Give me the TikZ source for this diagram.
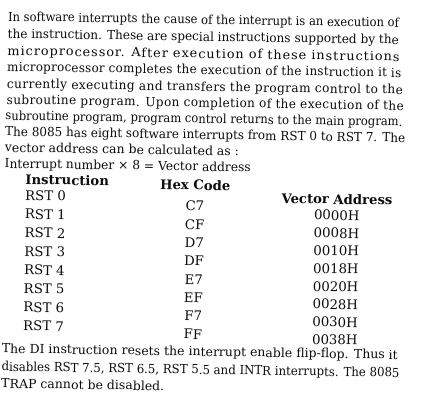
\documentclass[tikz,border=0pt]{standalone}
\usepackage{fontspec}
\setmainfont{DejaVu Serif}
\usepackage{graphicx}
\usetikzlibrary{positioning}

\newcommand\fitw[2]{\resizebox{#1}{\height}{#2}}

\begin{document}
\begin{tikzpicture}[x=1pt, y=1pt,
   txt/.style={inner sep=0pt, anchor=base west, font=\fontsize{12.5}{15}\selectfont, text=black!95},
   row/.style={txt, font=\fontsize{13.3}{15}\selectfont},
   head/.style={txt, font=\fontsize{13.2}{15}\selectfont\bfseries},
   cell/.style={row, anchor=base}]
   \useasboundingbox[fill=white] (0,0) rectangle (434,-419);
   \begin{scope}[rotate around={-0.9:(5,-200)}, transform shape]
   % running text
   \node[txt] (l1) at (5,-21) {\fitw{391pt}{In software interrupts the cause of the interrupt is an execution of}};
   \node[txt] (l2) at (5,-38) {\fitw{391pt}{the instruction. These are special instructions supported by the}};
   \node[txt] (l3) at (5,-55) {\fitw{392pt}{\addfontfeature{LetterSpace=7}microprocessor. After execution of these instructions}};
   \node[txt] (l4) at (5,-71) {\fitw{394pt}{\addfontfeature{LetterSpace=2}microprocessor completes the execution of the instruction it is}};
   \node[txt] (l5) at (5,-88) {\fitw{396pt}{\addfontfeature{LetterSpace=3}currently executing and transfers the program control to the}};
   \node[txt] (l6) at (5,-104) {\fitw{397pt}{\addfontfeature{LetterSpace=3}subroutine program. Upon completion of the execution of the}};
   \node[txt] (l7) at (4,-120) {\fitw{397pt}{subroutine program, program control returns to the main program.}};
   \node[txt] (l8) at (4,-136) {\fitw{400pt}{The 8085 has eight software interrupts from RST 0 to RST 7. The}};
   \node[txt] (l9) at (4,-152) {\fitw{234pt}{vector address can be calculated as :}};
   \node[txt] (l10) at (4,-168) {\fitw{246pt}{Interrupt number × 8 = Vector address}};

   % table
   \node[head] (hi) at (25,-184) {Instruction};
   \node[head, anchor=base] (hh) at (195,-187) {Hex Code};
   \node[head, anchor=base] (hv) at (337,-199) {Vector Address};

   \node[row] (r0) at (25,-200) {RST 0};
   \node[row] (r1) at (25,-218.6) {RST 1};
   \node[row] (r2) at (25,-237.2) {RST 2};
   \node[row] (r3) at (25,-255.8) {RST 3};
   \node[row] (r4) at (25,-274.4) {RST 4};
   \node[row] (r5) at (25,-293) {RST 5};
   \node[row] (r6) at (25,-311.6) {RST 6};
   \node[row] (r7) at (25,-330.2) {RST 7};

   \node[cell] (c0) at (195,-208) {C7};
   \node[cell] (c1) at (195,-226.3) {CF};
   \node[cell] (c2) at (195,-244.6) {D7};
   \node[cell] (c3) at (195,-262.9) {DF};
   \node[cell] (c4) at (195,-281.2) {E7};
   \node[cell] (c5) at (195,-299.5) {EF};
   \node[cell] (c6) at (195,-317.8) {F7};
   \node[cell] (c7) at (195,-336.1) {FF};

   \node[cell] (v0) at (337,-215) {0000H};
   \node[cell] (v1) at (337,-232.8) {0008H};
   \node[cell] (v2) at (337,-250.6) {0010H};
   \node[cell] (v3) at (337,-268.4) {0018H};
   \node[cell] (v4) at (337,-286.2) {0020H};
   \node[cell] (v5) at (337,-304) {0028H};
   \node[cell] (v6) at (337,-321.8) {0030H};
   \node[cell] (v7) at (337,-339.6) {0038H};

   % closing text
   \node[txt] (b1) at (4,-353) {\fitw{396pt}{The DI instruction resets the interrupt enable flip-flop. Thus it}};
   \node[txt] (b2) at (4,-371) {\fitw{398pt}{disables RST 7.5, RST 6.5, RST 5.5 and INTR interrupts. The 8085}};
   \node[txt] (b3) at (4,-388) {\fitw{163pt}{TRAP cannot be disabled.}};
   \end{scope}
\end{tikzpicture}
\end{document}
